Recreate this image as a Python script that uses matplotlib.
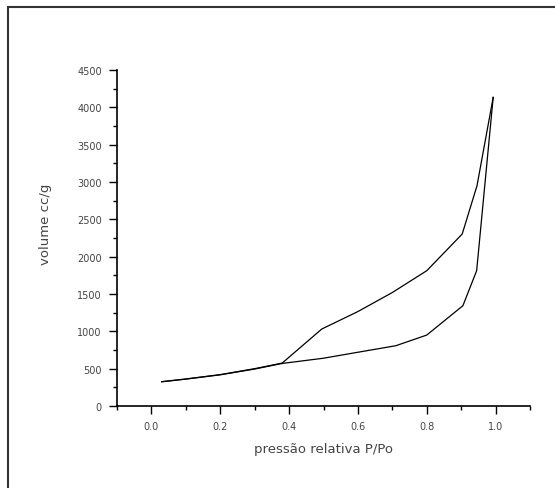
import numpy as np
import matplotlib.pyplot as plt
from matplotlib.patches import Rectangle

## isotherm data
## adsorption branch (lower) and desorption branch (upper)
p_ads = [0.03, 0.10, 0.20, 0.30, 0.38, 0.50, 0.60, 0.71, 0.80, 0.905, 0.945, 0.993]
v_ads = [325, 360, 418, 495, 570, 640, 720, 807, 950, 1343, 1812, 4133]

p_des = [0.03, 0.10, 0.20, 0.30, 0.38, 0.495, 0.60, 0.70, 0.80, 0.903, 0.946, 0.993]
v_des = [325, 362, 420, 500, 575, 1031, 1265, 1520, 1812, 2303, 2950, 4133]

x_ticks = [0.0, 0.2, 0.4, 0.6, 0.8, 1.0]
y_ticks = [0, 500, 1000, 1500, 2000, 2500, 3000, 3500, 4000, 4500]

plt.rcParams['font.family'] = ['DejaVu Sans']

fig = plt.figure(figsize=(5.55, 4.89), dpi=100)
W, H = 555, 489
ax = fig.add_axes([117 / W, 1 - 407 / H, (530 - 117) / W, (407 - 71) / H])

ax.plot(p_ads, v_ads, color='black', lw=0.9)
ax.plot(p_des, v_des, color='black', lw=0.9)

ax.set_xlim(-0.1, 1.1)
ax.set_ylim(0, 4500)
ax.set_xticks(x_ticks)
ax.set_xticklabels(['%.1f' % t for t in x_ticks])
ax.set_xticks(np.arange(-0.1, 1.11, 0.1), minor=True)
ax.set_yticks(y_ticks)
ax.set_yticks(np.arange(0, 4501, 250), minor=True)

for s in ['top', 'right']:
    ax.spines[s].set_visible(False)
for s in ['left', 'bottom']:
    ax.spines[s].set_linewidth(1.2)

ax.tick_params(which='major', direction='out', length=6, width=1, labelsize=7,
               labelcolor='#444444', pad=5)
ax.tick_params(which='minor', direction='out', length=3, width=1)

ax.set_xlabel('pressão relativa P/Po', fontsize=9.5, color='#444444', labelpad=8)
ax.set_ylabel('volume cc/g', fontsize=9.5, color='#444444')
ax.yaxis.set_label_coords(-0.157, 0.545)

## outer frame (only left and top edges visible in the original)
fig.patches.append(Rectangle((8 / W, -0.1), 1.2, 1 - 8 / H + 0.1, transform=fig.transFigure,
                             fill=False, edgecolor='#333333', lw=1.5))

fig.savefig('out.png', dpi=100)
